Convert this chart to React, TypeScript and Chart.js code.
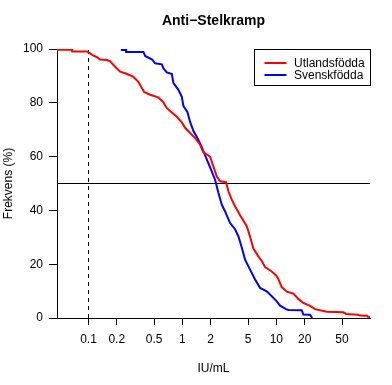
import React, { useEffect, useRef } from "react";
import { Chart, registerables } from "chart.js";

Chart.register(...registerables);

// ---- data (vertices) ----
const redX = [0.03, 0.0671, 0.0671, 0.0969, 0.1095, 0.1238, 0.1331, 0.158, 0.1702, 0.1923, 0.2174, 0.2457, 0.2988, 0.3378, 0.3699, 0.3915, 0.4533, 0.5513, 0.6232, 0.6825, 0.7714, 0.8719, 0.9854, 1.068, 1.207, 1.365, 1.543, 1.673, 1.971, 2.137, 2.323, 2.518, 2.917, 3.086, 3.354, 3.636, 4.111, 4.843, 5.251, 5.691, 6.433, 7.045, 7.583, 8.935, 9.927, 10.5, 11.41, 12.9, 15.17, 17.14, 19.38, 22.83, 25.8, 34.38, 51.62, 55.14, 73.97, 77.68, 92.25, 94.53, 99.27, 101.7];
const redY = [99.7, 99.7, 99.1, 99.1, 97.8, 96.9, 96.1, 95.9, 95.4, 93.4, 91.6, 91.0, 89.7, 87.9, 85.5, 84.0, 83.0, 82.0, 80.3, 78.0, 76.4, 74.8, 72.7, 70.7, 68.8, 66.9, 64.4, 61.6, 60.0, 56.3, 52.6, 50.8, 50.5, 47.1, 44.0, 41.5, 38.2, 34.1, 30.2, 25.8, 22.9, 21.0, 18.9, 17.3, 15.8, 14.5, 11.5, 9.8, 9.1, 7.1, 5.6, 4.5, 3.3, 2.3, 2.1, 1.5, 1.2, 0.9, 0.8, 0.45, 0.4, 0];

const blueX = [0.2212, 0.2518, 0.2518, 0.3847, 0.4011, 0.4762, 0.5124, 0.6039, 0.6281, 0.6825, 0.7714, 0.8021, 0.9066, 0.9854, 1.025, 1.13, 1.207, 1.309, 1.48, 1.608, 1.744, 1.971, 2.228, 2.415, 2.625, 2.847, 3.217, 3.636, 3.941, 4.284, 4.645, 5.251, 5.935, 6.709, 7.905, 8.935, 10.1, 10.95, 12.68, 13.42, 18.63, 19.38, 22.83, 23.69, 23.98];
const blueY = [99.6, 99.6, 98.9, 98.9, 97.4, 96.1, 94.7, 94.3, 92.8, 91.3, 90.7, 87.3, 84.8, 82.2, 78.8, 76.6, 72.9, 69.6, 66.2, 63.5, 60.5, 56.0, 51.4, 46.6, 42.1, 39.6, 35.3, 33.0, 30.4, 26.2, 21.7, 18.0, 14.3, 11.2, 9.9, 8.1, 6.2, 4.6, 3.3, 3.0, 2.9, 1.3, 1.2, 0.4, 0];

const xTicks = [0.1, 0.2, 0.5, 1, 2, 5, 10, 20, 50];
const xTickLabels = ["0.1", "0.2", "0.5", "1", "2", "5", "10", "20", "50"];
const yTicks = [0, 20, 40, 60, 80, 100];
const xMin = 0.04622;
const xMax = 99.3;
const yMin = 0;
const yMax = 100;
const refY = 50;
const refX = 0.1;
const seriesNames = ["Utlandsfödda", "Svenskfödda"];
const seriesColors = ["#FF0000", "#0000FF"];
const titleText = "Anti\u2212Stelkramp";
const xTitle = "IU/mL";
const yTitle = "Frekvens (%)";

const FONT = "'Liberation Sans', Arial, Helvetica, sans-serif";

const decorPlugin = {
  id: "decor",
  afterDraw(chart: any) {
    const { ctx, chartArea } = chart;
    ctx.save();
    // title
    ctx.fillStyle = "#000";
    ctx.font = `bold 14px ${FONT}`;
    ctx.textAlign = "center";
    ctx.textBaseline = "middle";
    ctx.fillText(titleText, (chartArea.left + chartArea.right) / 2, 21);
    // legend (top-right inside plot region)
    const bw = 116;
    const bh = 36;
    const bx = Math.round(chartArea.right - bw) + 0.5;
    const by = Math.round(chartArea.top) + 0.5;
    ctx.fillStyle = "#fff";
    ctx.fillRect(bx, by, bw, bh);
    ctx.strokeStyle = "#000";
    ctx.lineWidth = 1;
    ctx.strokeRect(bx, by, bw, bh);
    const rows = [by + 13.5, by + 25.5];
    ctx.font = `12px ${FONT}`;
    ctx.textAlign = "left";
    ctx.textBaseline = "middle";
    seriesNames.forEach((name, i) => {
      ctx.strokeStyle = seriesColors[i];
      ctx.lineWidth = 2;
      ctx.beginPath();
      ctx.moveTo(bx + 10, Math.round(rows[i]));
      ctx.lineTo(bx + 32, Math.round(rows[i]));
      ctx.stroke();
      ctx.fillStyle = "#000";
      ctx.fillText(name, bx + 39.5, rows[i] + 0.5);
    });
    ctx.restore();
  },
};

export default function App() {
  const ref = useRef<HTMLCanvasElement>(null);
  useEffect(() => {
    const canvas = ref.current!;
    const chart = new Chart(canvas, {
      type: "line",
      data: {
        datasets: [
          {
            label: seriesNames[0],
            data: redX.map((x, i) => ({ x, y: redY[i] })),
            borderColor: seriesColors[0],
            borderWidth: 2,
            tension: 0,
            pointRadius: 0,
            fill: false,
            clip: 0,
            order: 0,
          },
          {
            label: seriesNames[1],
            data: blueX.map((x, i) => ({ x, y: blueY[i] })),
            borderColor: seriesColors[1],
            borderWidth: 2,
            tension: 0,
            pointRadius: 0,
            fill: false,
            clip: 0,
            order: 1,
          },
          {
            label: "ref50",
            data: [
              { x: xMin, y: refY },
              { x: xMax, y: refY },
            ],
            borderColor: "#000",
            borderWidth: 1,
            pointRadius: 0,
            fill: false,
            order: 2,
          },
          {
            label: "ref01",
            data: [
              { x: refX, y: yMin },
              { x: refX, y: yMax },
            ],
            borderColor: "#000",
            borderWidth: 1,
            borderDash: [4, 4],
            pointRadius: 0,
            fill: false,
            order: 3,
          },
        ] as any,
      },
      options: {
        responsive: false,
        animation: false,
        devicePixelRatio: 1,
        layout: { padding: { top: 49, right: 22, left: 0, bottom: 0 } },
        plugins: {
          legend: { display: false },
          tooltip: { enabled: false },
          title: { display: false },
        },
        scales: {
          x: {
            type: "logarithmic",
            min: xMin,
            max: xMax,
            bounds: "data",
            afterBuildTicks: (s: any) => {
              s.ticks = xTicks.map((v) => ({ value: v }));
            },
            afterFit: (s: any) => {
              s.height = 67;
            },
            ticks: {
              autoSkip: false,
              maxRotation: 0,
              minRotation: 0,
              color: "#000",
              padding: 7,
              font: { family: FONT, size: 12 },
              callback: (v: any) => {
                const i = xTicks.indexOf(Number(v));
                return i >= 0 ? xTickLabels[i] : "";
              },
            },
            grid: { drawOnChartArea: false, drawTicks: true, tickLength: 7, color: "#000" },
            border: { display: true, color: "#000", width: 1 },
            title: {
              display: true,
              text: xTitle,
              color: "#000",
              font: { family: FONT, size: 12 },
              padding: { top: 0, bottom: 9 },
            },
          },
          y: {
            type: "linear",
            min: yMin,
            max: yMax,
            afterBuildTicks: (s: any) => {
              s.ticks = yTicks.map((v) => ({ value: v }));
            },
            afterFit: (s: any) => {
              s.width = 57;
            },
            ticks: {
              color: "#000",
              padding: 6,
              font: { family: FONT, size: 12 },
            },
            grid: { drawOnChartArea: false, drawTicks: true, tickLength: 8, color: "#000" },
            border: { display: true, color: "#000", width: 1 },
            title: {
              display: true,
              text: yTitle,
              color: "#000",
              font: { family: FONT, size: 12 },
              padding: { top: 1, bottom: 0 },
            },
          },
        },
      } as any,
      plugins: [decorPlugin],
    });
    return () => chart.destroy();
  }, []);

  return (
    <div style={{ position: "absolute", left: 0, top: 0, width: 392, height: 385, background: "#fff" }}>
      <canvas ref={ref} width={392} height={385} style={{ display: "block", width: 392, height: 385 }} />
    </div>
  );
}
